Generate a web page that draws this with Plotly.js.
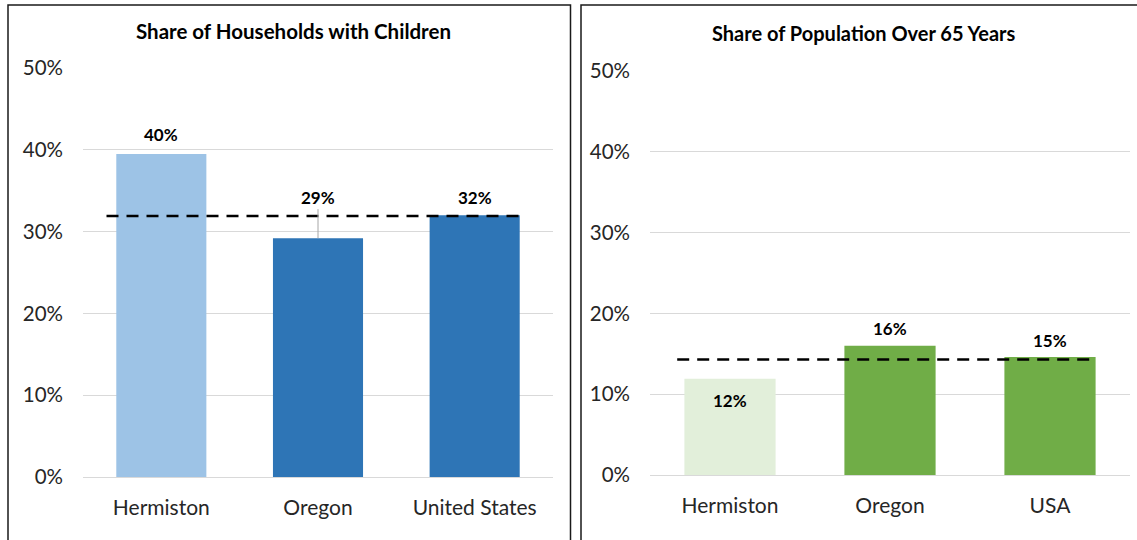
<!DOCTYPE html>
<html>
<head>
<meta charset="utf-8">
<script src="https://cdn.plot.ly/plotly-3.0.1.min.js"></script>
<style>
html,body{margin:0;padding:0;background:#fff;}
#chart{width:1137px;height:540px;}
</style>
</head>
<body>
<div id="chart"></div>
<script>
// ---- data ----
const title1 = 'Share of Households with Children';
const cats1 = ['Hermiston', 'Oregon', 'United States'];
const vals1 = [0.395, 0.292, 0.320];
const bench1 = 0.319;

const title2 = 'Share of Population Over 65 Years';
const cats2 = ['Hermiston', 'Oregon', 'USA'];
const vals2 = [0.119, 0.160, 0.146];
const bench2 = 0.143;

const yTicks = [0, 0.1, 0.2, 0.3, 0.4, 0.5];

// ---- style ----
const W = 1137, H = 540;
const FONT = 'Lato, "Open Sans", sans-serif';
const colors1 = ['#9DC3E6', '#2E75B6', '#2E75B6'];
const colors2 = ['#E2EFDA', '#70AD47', '#70AD47'];
const pct = v => Math.round(v * 100) + '%';
const px = x => x / W;
const py = y => 1 - y / H;

const traces = [
  {type: 'bar', x: cats1, y: vals1, xaxis: 'x', yaxis: 'y',
   marker: {color: colors1}, width: 0.575, hoverinfo: 'skip', showlegend: false},
  {type: 'bar', x: cats2, y: vals2, xaxis: 'x2', yaxis: 'y2',
   marker: {color: colors2}, width: 0.57, hoverinfo: 'skip', showlegend: false}
];

function yax(domain, anchor) {
  return {
    domain: domain, anchor: anchor, range: [0, 0.5], tickvals: yTicks, tickformat: '.0%',
    showgrid: true, gridcolor: '#D9D9D9', gridwidth: 1, zeroline: false, showline: false,
    ticks: '', ticklabelstandoff: 19, tickfont: {family: FONT, size: 20.5, color: '#262626'},
    fixedrange: true
  };
}
function xax(domain, anchor) {
  return {
    domain: domain, anchor: anchor, type: 'category', range: [-0.5, 2.5],
    showgrid: false, zeroline: false, showline: true, linecolor: '#D9D9D9', linewidth: 1,
    ticks: '', ticklabelstandoff: 12, tickfont: {family: FONT, size: 21, color: '#262626'},
    fixedrange: true
  };
}

const annotations = [];
function addLabels(cats, vals, xr, yr, special) {
  cats.forEach((c, i) => {
    const s = special[i] || {};
    if (s.leader) {
      annotations.push({x: c, y: vals[i], xref: xr, yref: yr, text: '<b>' + pct(vals[i]) + '</b>',
        showarrow: true, arrowhead: 0, arrowwidth: 1, arrowcolor: '#A6A6A6', ax: 0, ay: s.leader,
        standoff: 0, font: {family: FONT, size: 17, color: '#000'}});
    } else {
      annotations.push({x: c, y: vals[i], xref: xr, yref: yr, text: '<b>' + pct(vals[i]) + '</b>',
        showarrow: false, yanchor: 'middle', yshift: s.shift !== undefined ? s.shift : 18,
        font: {family: FONT, size: 17, color: '#000'}});
    }
  });
}
addLabels(cats1, vals1, 'x', 'y', [{shift: 19}, {leader: -41}, {shift: 18}]);
addLabels(cats2, vals2, 'x2', 'y2', [{shift: -22}, {shift: 17}, {shift: 17}]);

annotations.push({text: '<b>' + title1 + '</b>', xref: 'paper', yref: 'paper', x: px(293), y: py(31),
  showarrow: false, xanchor: 'center', yanchor: 'middle', font: {family: FONT, size: 20.5, color: '#000'}});
annotations.push({text: '<b>' + title2 + '</b>', xref: 'paper', yref: 'paper', x: px(864), y: py(33),
  showarrow: false, xanchor: 'center', yanchor: 'middle', font: {family: FONT, size: 20, color: '#000'}});

const shapes = [
  // panel borders
  {type: 'rect', xref: 'paper', yref: 'paper', x0: px(8), x1: px(570.5), y0: -0.05, y1: py(5),
   line: {color: '#1a1a1a', width: 1.5}, fillcolor: 'rgba(0,0,0,0)', layer: 'below'},
  {type: 'rect', xref: 'paper', yref: 'paper', x0: px(581), x1: 1.05, y0: -0.05, y1: py(5),
   line: {color: '#1a1a1a', width: 1.5}, fillcolor: 'rgba(0,0,0,0)', layer: 'below'},
  // benchmark dashed lines
  {type: 'line', xref: 'x', yref: 'y', x0: -0.35, x1: 2.33, y0: bench1, y1: bench1,
   line: {color: '#000', width: 2.4, dash: '12px,8px'}},
  {type: 'line', xref: 'x2', yref: 'y2', x0: -0.33, x1: 2.29, y0: bench2, y1: bench2,
   line: {color: '#000', width: 2.4, dash: '12px,8px'}}
];

const layout = {
  width: W, height: H, margin: {l: 0, r: 0, t: 0, b: 0},
  paper_bgcolor: '#fff', plot_bgcolor: 'rgba(0,0,0,0)',
  showlegend: false, bargap: 0.4,
  xaxis: xax([px(83), px(553)], 'y'),
  yaxis: yax([py(477), py(68)], 'x'),
  xaxis2: xax([px(650), px(1130)], 'y2'),
  yaxis2: yax([py(475), py(71)], 'x2'),
  annotations: annotations,
  shapes: shapes
};

Plotly.newPlot('chart', traces, layout, {displayModeBar: false, staticPlot: true});
</script>
</body>
</html>
